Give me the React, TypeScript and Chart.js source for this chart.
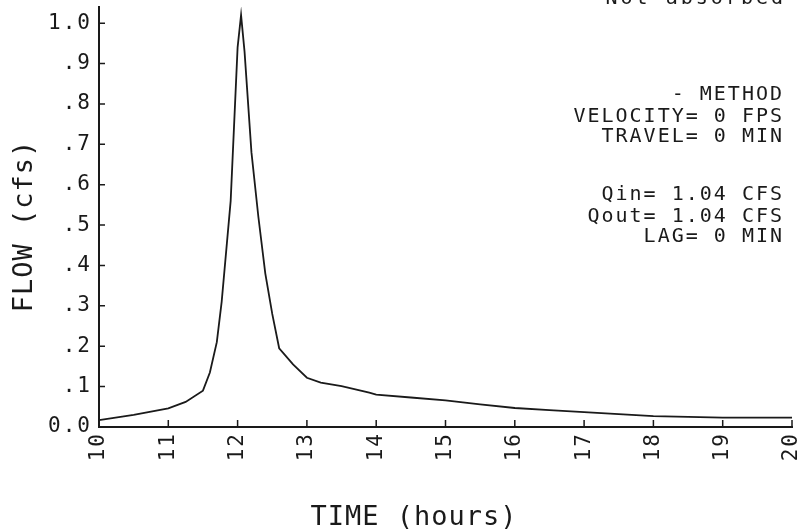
import React, { useEffect, useRef } from "react";
import { Chart, registerables } from "chart.js";

Chart.register(...registerables);

const times = [10.0, 10.5, 11.0, 11.25, 11.5, 11.6, 11.7, 11.77, 11.9, 12.0, 12.05, 12.1, 12.2, 12.3, 12.4, 12.5, 12.6, 12.8, 13.0, 13.2, 13.5, 13.9, 14.0, 14.5, 15.0, 15.5, 16.0, 16.5, 17.0, 17.5, 18.0, 18.5, 19.0, 19.5, 20.0];
const flows = [0.017, 0.030, 0.046, 0.062, 0.090, 0.135, 0.21, 0.31, 0.56, 0.94, 1.02, 0.93, 0.68, 0.52, 0.38, 0.28, 0.195, 0.155, 0.122, 0.110, 0.101, 0.085, 0.080, 0.073, 0.066, 0.056, 0.047, 0.042, 0.037, 0.032, 0.027, 0.025, 0.023, 0.023, 0.023];

const xTicks = [10, 11, 12, 13, 14, 15, 16, 17, 18, 19, 20];
const yTicks = [0, 0.1, 0.2, 0.3, 0.4, 0.5, 0.6, 0.7, 0.8, 0.9, 1.0];
const yTickLabels = ["0.0", ".1", ".2", ".3", ".4", ".5", ".6", ".7", ".8", ".9", "1.0"];

const xTitle = "TIME (hours)";
const yTitle = "FLOW (cfs)";
const headerText = "Not absorbed";
const infoLines = ["- METHOD", "VELOCITY= 0 FPS", "TRAVEL= 0 MIN", "", "Qin= 1.04 CFS", "Qout= 1.04 CFS", "LAG= 0 MIN"];

const FONT = "'DejaVu Sans Mono', monospace";
const INK = "#1a1a1a";

const decorPlugin = {
  id: "decor",
  beforeDraw(chart: any) {
    chart.ctx.letterSpacing = "2px";
  },
  afterDraw(chart: any) {
    const ctx = chart.ctx;
    const xs = chart.scales.x;
    const ys = chart.scales.y;
    const area = chart.chartArea;
    ctx.save();
    ctx.strokeStyle = INK;
    ctx.lineWidth = 1.5;
    ctx.beginPath();
    ys.ticks.forEach((t: any) => {
      if (t.value === 0) return;
      const py = ys.getPixelForValue(t.value);
      ctx.moveTo(area.left, py);
      ctx.lineTo(area.left + 6, py);
    });
    xs.ticks.forEach((t: any) => {
      if (t.value === xs.min) return;
      const px = xs.getPixelForValue(t.value);
      ctx.moveTo(px, area.bottom);
      ctx.lineTo(px, area.bottom - 7);
    });
    ctx.stroke();

    ctx.fillStyle = INK;
    ctx.textAlign = "right";
    ctx.textBaseline = "alphabetic";
    // header
    ctx.font = `20px ${FONT}`;
    ctx.letterSpacing = "3px";
    ctx.fillText(headerText, 786, 4);
    // info block
    ctx.letterSpacing = "2px";
    const baselines = [100, 122, 142, 0, 200, 222, 242];
    infoLines.forEach((s, i) => {
      if (s) ctx.fillText(s, 784, baselines[i]);
    });

    // axis titles
    ctx.font = `27px ${FONT}`;
    ctx.letterSpacing = "1px";
    ctx.textAlign = "center";
    ctx.fillText(xTitle, 414, 525);
    ctx.save();
    ctx.translate(32, 226);
    ctx.rotate(-Math.PI / 2);
    ctx.fillText(yTitle, 0, 0);
    ctx.restore();
    ctx.restore();
  },
};

export default function App() {
  const ref = useRef<HTMLCanvasElement>(null);
  useEffect(() => {
    document.body.style.margin = "0";
    const canvas = ref.current!;
    const chart = new Chart(canvas, {
      type: "line",
      data: {
        datasets: [
          {
            data: times.map((t, i) => ({ x: t, y: flows[i] })),
            borderColor: INK,
            borderWidth: 1.8,
            pointRadius: 0,
            tension: 0,
            fill: false,
          },
        ],
      },
      options: {
        animation: false,
        responsive: false,
        devicePixelRatio: 1,
        layout: { padding: { top: 7, right: 6, left: 0, bottom: 0 } },
        plugins: { legend: { display: false }, tooltip: { enabled: false }, title: { display: false } },
        scales: {
          x: {
            type: "linear",
            min: 10,
            max: 20,
            afterBuildTicks: (s: any) => {
              s.ticks = xTicks.map((v) => ({ value: v }));
            },
            afterFit: (s: any) => {
              s.height = 105;
              s.paddingLeft = 0;
              s.paddingRight = 0;
            },
            grid: { display: false, drawTicks: false },
            border: { display: true, color: INK, width: 2 },
            ticks: {
              autoSkip: false,
              minRotation: 90,
              maxRotation: 90,
              padding: 5,
              color: INK,
              font: { family: FONT, size: 21 },
              callback: (v: any) => String(v),
            },
          },
          y: {
            type: "linear",
            min: 0,
            max: 1.04,
            afterBuildTicks: (s: any) => {
              s.ticks = yTicks.map((v) => ({ value: v }));
            },
            afterFit: (s: any) => {
              s.width = 99;
              s.paddingTop = 0;
              s.paddingBottom = 0;
            },
            grid: { display: false, drawTicks: false },
            border: { display: true, color: INK, width: 2 },
            ticks: {
              padding: 7,
              color: INK,
              font: { family: FONT, size: 21 },
              callback: (v: any) => {
                const i = yTicks.findIndex((t) => Math.abs(t - v) < 1e-6);
                return i >= 0 ? yTickLabels[i] : "";
              },
            },
          },
        },
      },
      plugins: [decorPlugin],
    });
    return () => chart.destroy();
  }, []);
  return (
    <div style={{ width: 798, height: 532, background: "#fff" }}>
      <canvas ref={ref} width={798} height={532} />
    </div>
  );
}
